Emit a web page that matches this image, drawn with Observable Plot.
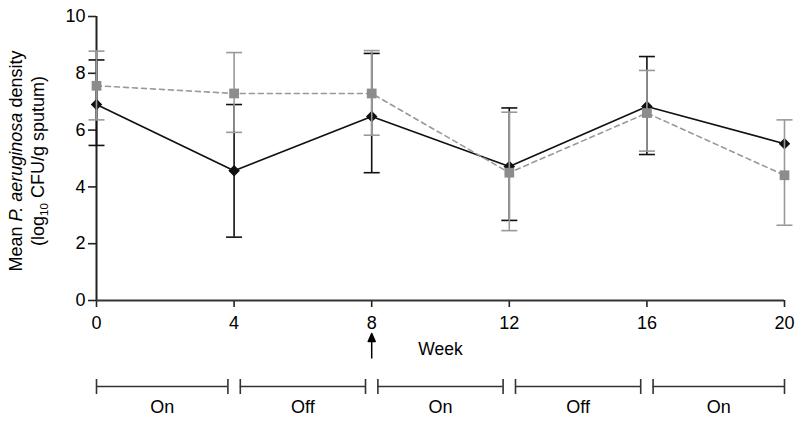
<!DOCTYPE html>
<html>
<head>
<meta charset="utf-8">
<script src="https://cdn.jsdelivr.net/npm/d3@7"></script>
<script src="https://cdn.jsdelivr.net/npm/@observablehq/plot@0.6"></script>
<style>
  html, body { margin: 0; padding: 0; background: #fff; }
  #chart svg { display: block; }
</style>
</head>
<body>
<div id="chart"></div>
<script>
// ---- data ----
const weeks = [0, 4, 8, 12, 16, 20];
const blackMean = [6.9, 4.57, 6.48, 4.72, 6.83, 5.52];
const blackHi   = [8.47, 6.9, 8.7, 6.78, 8.59, null];
const blackLo   = [5.46, 2.23, 4.5, 2.82, 5.14, null];
const grayMean  = [7.56, 7.29, 7.29, 4.5, 6.6, 4.41];
const grayHi    = [8.78, 8.73, 8.8, 6.63, 8.1, 6.36];
const grayLo    = [6.36, 5.92, 5.82, 2.46, 5.26, 2.65];
const yTicks = [0, 2, 4, 6, 8, 10];
const xTicks = [0, 4, 8, 12, 16, 20];
const arrowWeek = [8];
const periodLabels = ["On", "Off", "On", "Off", "On"];
const periodStart = [0, 4.18, 8.18, 12.18, 16.18];
const periodEnd   = [3.82, 7.82, 11.82, 15.82, 20];

const black = weeks.map((w, i) => ({week: w, mean: blackMean[i], hi: blackHi[i], lo: blackLo[i]}));
const gray = weeks.map((w, i) => ({week: w, mean: grayMean[i], hi: grayHi[i], lo: grayLo[i]}));
const blackErr = black.filter(d => d.hi != null);
const periods = periodLabels.map((l, i) => ({label: l, start: periodStart[i], end: periodEnd[i]}));
const ends = periods.flatMap(d => [d.start, d.end]);

const lineShape = { draw(context, l) { context.moveTo(0, 0); context.lineTo(0, -l); } };
const arrowShape = { draw(context, l) {
  context.moveTo(0, 0); context.lineTo(0, -l + 6);
  context.moveTo(-3.5, -l + 8); context.lineTo(0, -l); context.lineTo(3.5, -l + 8); context.closePath();
} };

const font = "'Liberation Sans', Arial, Helvetica, sans-serif";
const BLK = "#111";
const GRY = "#999";
const GRYF = "#8c8c8c";

function errMarks(rows, color) {
  return [
    Plot.ruleX(rows, {x: "week", y1: "lo", y2: "hi", stroke: color, strokeWidth: 1.6}),
    Plot.vector(rows, {x: "week", y: "hi", length: 16, rotate: 90, anchor: "middle", shape: lineShape, stroke: color, strokeWidth: 1.6, strokeLinecap: "butt"}),
    Plot.vector(rows, {x: "week", y: "lo", length: 16, rotate: 90, anchor: "middle", shape: lineShape, stroke: color, strokeWidth: 1.6, strokeLinecap: "butt"})
  ];
}

const svg = Plot.plot({
  width: 800,
  height: 421,
  marginLeft: 96,
  marginRight: 16,
  marginTop: 16,
  marginBottom: 121,
  style: {fontFamily: font, fontSize: "18px", color: "#000", background: "#fff"},
  x: {domain: [0, 20]},
  y: {domain: [0, 10]},
  marks: [
    Plot.axisY({ticks: yTicks, tickSize: 8, tickPadding: 3, label: null, fontSize: 18, stroke: "#222", strokeWidth: 1.6}),
    Plot.axisX({ticks: xTicks, tickSize: 7, tickPadding: 9, label: null, fontSize: 18, stroke: "#222", strokeWidth: 1.6}),
    Plot.ruleX([0], {y1: 0, y2: 10, stroke: "#222", strokeWidth: 2}),
    Plot.ruleY([0], {x1: 0, x2: 20, stroke: "#333", strokeWidth: 2}),
    // black series
    ...errMarks(blackErr, BLK),
    Plot.line(black, {x: "week", y: "mean", stroke: BLK, strokeWidth: 1.7}),
    Plot.dot(black, {x: "week", y: "mean", symbol: "diamond2", r: 5.2, fill: BLK, stroke: "none"}),
    // gray series
    ...errMarks(gray, GRY),
    Plot.line(gray, {x: "week", y: "mean", stroke: GRY, strokeWidth: 1.6, strokeDasharray: "5,4"}),
    Plot.dot(gray, {x: "week", y: "mean", symbol: "square", r: 5.5, fill: GRYF, stroke: "none"}),
    // week label and arrow
    Plot.text(["Week"], {frameAnchor: "bottom", dy: 49, lineAnchor: "middle", fontSize: 17.5, fill: "#000"}),
    Plot.vector(arrowWeek, {x: d => d, frameAnchor: "bottom", dy: 58, length: 25, rotate: 0, anchor: "start", shape: arrowShape, stroke: "#000", fill: "#000", strokeWidth: 1.5, strokeLinecap: "butt"}),
    // treatment schedule
    Plot.ruleY(periods, {x1: "start", x2: "end", y: d => 0, dy: 86, stroke: "#333", strokeWidth: 1.6}),
    Plot.vector(ends, {x: d => d, frameAnchor: "bottom", dy: 86, length: 15, rotate: 0, anchor: "middle", shape: lineShape, stroke: "#333", strokeWidth: 1.6, strokeLinecap: "butt"}),
    Plot.text(periods, {x: d => (d.start + d.end) / 2, frameAnchor: "bottom", dy: 107, text: "label", lineAnchor: "middle", fontSize: 18, fill: "#000"})
  ]
});

// y-axis title with italic species name and subscript
const g = d3.select(svg).append("g")
  .attr("font-family", font)
  .attr("font-size", 18)
  .attr("fill", "#000")
  .attr("text-anchor", "middle");
const t1 = g.append("text").attr("transform", "translate(16,161) rotate(-90)").attr("dy", "0.35em");
t1.append("tspan").text("Mean ");
t1.append("tspan").attr("font-style", "italic").text("P. aeruginosa");
t1.append("tspan").text(" density");
const t2 = g.append("text").attr("transform", "translate(38,161) rotate(-90)").attr("dy", "0.35em");
t2.append("tspan").text("(log");
t2.append("tspan").attr("font-size", 11.5).attr("dy", "4").text("10");
t2.append("tspan").attr("dy", "-4").text(" CFU/g sputum)");

document.getElementById("chart").appendChild(svg);
</script>
</body>
</html>
